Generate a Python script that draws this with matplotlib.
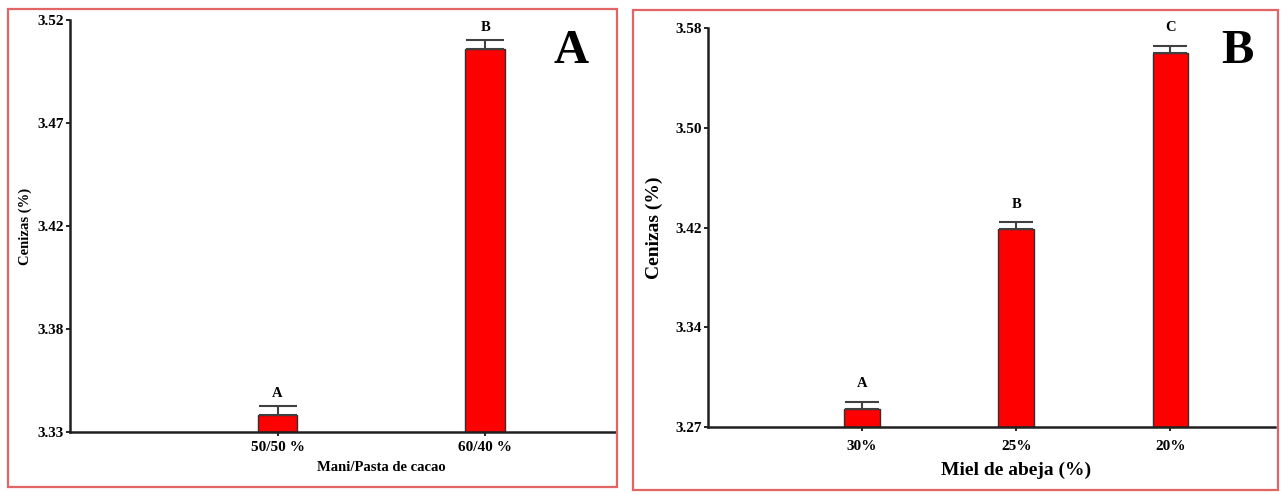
import matplotlib.pyplot as plt
from matplotlib.patches import Rectangle

# panel A: mani / pasta de cacao
cats_a = ['50/50 %', '60/40 %']
vals_a = [3.3378, 3.5067]
errs_a = [0.0043, 0.0040]
letras_a = ['A', 'B']
yticks_a = [3.33, 3.3775, 3.425, 3.4725, 3.52]
ylabels_a = ['3.33', '3.38', '3.42', '3.47', '3.52']

# panel B: miel de abeja
cats_b = ['30%', '25%', '20%']
vals_b = [3.284, 3.424, 3.5606]
errs_b = [0.0054, 0.0052, 0.0054]
letras_b = ['A', 'B', 'C']
yticks_b = [3.27, 3.3475, 3.425, 3.5025, 3.58]
ylabels_b = ['3.27', '3.34', '3.42', '3.50', '3.58']

plt.rcParams['font.family'] = 'Liberation Serif'
plt.rcParams['font.weight'] = 'bold'

W, H = 1287, 494
fig = plt.figure(figsize=(W / 100, H / 100), dpi=100)

# red frames around each panel
for x0, y0, x1, y1 in [(8, 9, 617, 487), (633, 10, 1278, 490)]:
    fig.patches.append(Rectangle((x0 / W, 1 - y1 / H), (x1 - x0) / W, (y1 - y0) / H,
                                 transform=fig.transFigure, fill=False,
                                 edgecolor='#e36464', linewidth=1.6))


def panel(rect, cats, vals, errs, letras, yticks, ylabels, ylim, xmax, bw, cap,
          lab_size, xlabel, ylabel, letter_off, xlab_y, xpad, ypad):
    ax = fig.add_axes([rect[0] / W, 1 - rect[3] / H, (rect[2] - rect[0]) / W,
                       (rect[3] - rect[1]) / H])
    pos = list(range(1, len(cats) + 1))
    ax.bar(pos, [v - ylim[0] for v in vals], bottom=ylim[0], width=bw,
           color='#ff0000', edgecolor='#303030', linewidth=1.0, zorder=2)
    ax.errorbar(pos, vals, yerr=[[0] * len(errs), errs], fmt='none',
                ecolor='#404040', elinewidth=1.5, capsize=cap, capthick=1.5, zorder=3)
    for p, v, e, l in zip(pos, vals, errs, letras):
        ax.annotate(l, (p, v + e), xytext=(0, letter_off), textcoords='offset points',
                    ha='center', va='center', fontsize=10.5, fontweight='bold')
    ax.set_xlim(0, xmax)
    ax.set_ylim(*ylim)
    ax.set_yticks(yticks)
    ax.set_yticklabels(ylabels)
    ax.set_xticks(pos)
    ax.set_xticklabels(cats)
    for s in ['top', 'right']:
        ax.spines[s].set_visible(False)
    for s in ['left', 'bottom']:
        ax.spines[s].set_linewidth(1.8)
        ax.spines[s].set_color('#202020')
    ax.tick_params(axis='both', length=3, width=1.2, labelsize=11, pad=1.5)
    ax.tick_params(axis='x', pad=xpad)
    ax.set_ylabel(ylabel, fontsize=lab_size, fontweight='bold', labelpad=ypad)
    ax.text((pos[0] + pos[-1]) / 2, xlab_y, xlabel, transform=ax.get_xaxis_transform(),
            ha='center', va='center', fontsize=lab_size, fontweight='bold')
    ax.patch.set_alpha(0)
    return ax


panel((70, 20, 616, 432), cats_a, vals_a, errs_a, letras_a, yticks_a, ylabels_a,
      (3.33, 3.52), 2.63, 0.19, 14, 10.5, 'Mani/Pasta de cacao', 'Cenizas (%)', 9,
      -0.085, 3.5, 4)
panel((708, 28, 1275, 427), cats_b, vals_b, errs_b, letras_b, yticks_b, ylabels_b,
      (3.27, 3.58), 3.68, 0.23, 12.5, 14, 'Miel de abeja (%)', 'Cenizas (%)', 13,
      -0.108, 6.5, 9)

fig.text(571 / W, 1 - 51 / H, 'A', fontsize=35, fontweight='bold', ha='center', va='center')
fig.text(1237 / W, 1 - 51 / H, 'B', fontsize=35, fontweight='bold', ha='center', va='center')

fig.savefig('out.png', dpi=100)
